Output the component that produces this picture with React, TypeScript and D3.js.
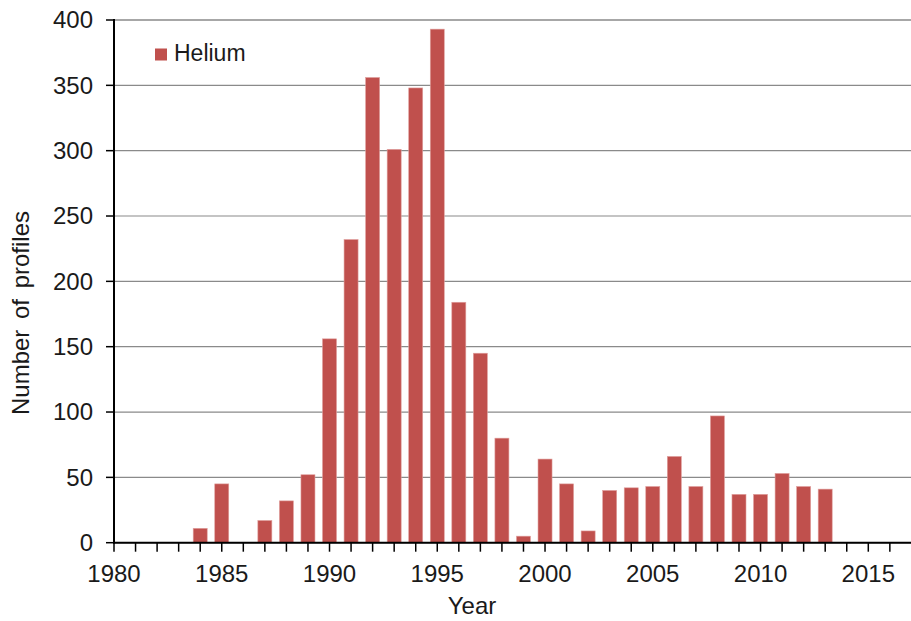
import React from 'react'
import { scaleLinear, range } from 'd3'

const years = [1984, 1985, 1987, 1988, 1989, 1990, 1991, 1992, 1993, 1994, 1995, 1996, 1997, 1998, 1999, 2000, 2001, 2002, 2003, 2004, 2005, 2006, 2007, 2008, 2009, 2010, 2011, 2012, 2013]
const helium = [11, 45, 17, 32, 52, 156, 232, 356, 301, 348, 393, 184, 145, 80, 5, 64, 45, 9, 40, 42, 43, 66, 43, 97, 37, 37, 53, 43, 41]
const yTicks = [0, 50, 100, 150, 200, 250, 300, 350, 400]
const xLabels = [1980, 1985, 1990, 1995, 2000, 2005, 2010, 2015]

const App = () => {
  const width = 911
  const height = 621
  const left = 114
  const top = 20
  const bottom = 542.7
  const font = '"Liberation Sans", Arial, sans-serif'

  const xScale = scaleLinear().domain([1980, 2017]).range([left, 911.4])
  const yScale = scaleLinear().domain([0, 400]).range([bottom, top])
  const barWidth = (xScale(1981) - xScale(1980)) * 0.65

  return (
    <svg width={width} height={height} style={{ position: 'absolute', left: 0, top: 0, background: '#fff' }} fontFamily={font}>
      {yTicks.map(t => (
        <line key={'g' + t} x1={left} x2={width} y1={yScale(t)} y2={yScale(t)} stroke='#8a8a8a' strokeWidth={t === 400 ? 1.6 : 1.2} />
      ))}

      {years.map((yr, i) => (
        <rect
          key={yr}
          x={xScale(yr) - barWidth / 2}
          y={yScale(helium[i])}
          width={barWidth}
          height={bottom - yScale(helium[i])}
          fill='#c0504d'
          stroke='#e0a09e'
          strokeWidth={0.6}
        />
      ))}

      {/* axes */}
      <line x1={left} x2={left} y1={top - 1} y2={bottom + 1} stroke='#000' strokeWidth={2} />
      <line x1={left - 1} x2={width} y1={bottom} y2={bottom} stroke='#000' strokeWidth={2} />

      {yTicks.map(t => (
        <g key={'y' + t} transform={`translate(${left}, ${yScale(t)})`}>
          <line x1={-8} x2={0} stroke='#000' strokeWidth={1.5} />
          <text x={-21} dy='0.35em' textAnchor='end' fontSize={24} fill='#1a1a1a'>{t}</text>
        </g>
      ))}

      {range(1980, 2017).map(yr => (
        <line key={'t' + yr} x1={xScale(yr)} x2={xScale(yr)} y1={bottom} y2={bottom + 9} stroke='#000' strokeWidth={1.5} />
      ))}
      {xLabels.map(yr => (
        <text key={'x' + yr} x={xScale(yr)} y={582} textAnchor='middle' fontSize={24} fill='#1a1a1a'>{yr}</text>
      ))}

      <text x={472} y={614} textAnchor='middle' fontSize={24} fill='#1a1a1a'>Year</text>
      <text transform={`translate(29, 313) rotate(-90)`} textAnchor='middle' fontSize={24} fill='#1a1a1a' wordSpacing={4}>Number of profiles</text>

      {/* legend */}
      <rect x={155} y={48.5} width={12} height={12} fill='#c0504d' />
      <text x={174} y={61} fontSize={23} fill='#1a1a1a'>Helium</text>
    </svg>
  )
}

export default App
